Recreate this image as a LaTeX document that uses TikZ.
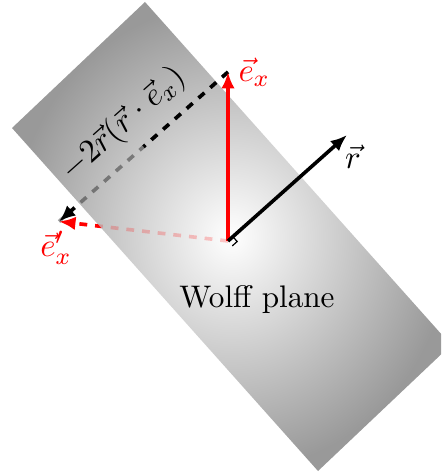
\documentclass[tikz,border=0pt]{standalone}
\usetikzlibrary{arrows.meta,calc}
\begin{document}
\begin{tikzpicture}[x=0.3333pt,y=-0.3333pt,
  vecarrow/.style={line width=1.2pt,-{Latex[length=5.5pt,width=4.5pt]}},
  dsh/.style={line width=1.2pt,dash pattern=on 2.6pt off 2.65pt},
  tipped/.style={-{Latex[length=5.5pt,width=4.5pt]}},
  mlabel/.style={font=\fontsize{11.2}{13}\selectfont}]
\clip (0,0) rectangle (441,474);
% Wolff plane
\coordinate (T) at (145,2);
\coordinate (L) at (12,128);
\coordinate (B) at (318,471);
\coordinate (Rc) at (451,345);
\shade[inner color=white, outer color=black!40] (T) -- (L) -- (B) -- (Rc) -- cycle;
% points
\coordinate (O) at (228,241);
\coordinate (E) at (228,72);
\coordinate (R) at (347,135);
\coordinate (Ep) at (59,221.5);
\coordinate (M) at ($(E)!0.5!(Ep)$);
% parts behind the plane
\draw[dsh, black, opacity=0.38] (E) -- (Ep);
\draw[dsh, black] (E) -- (M);
\draw[dsh, red, opacity=0.22] (O) -- (Ep);
% parts outside the plane
\begin{scope}
  \clip (0,114.5) -- (330,484.5) -- (0,484.5) -- cycle;
  \draw[dsh, black, tipped] (E) -- (Ep);
  \draw[dsh, red, tipped] (O) -- (Ep);
\end{scope}
% vectors
\draw[vecarrow, red] (O) -- (E);
\draw[vecarrow, black] (O) -- (R);
% right angle mark
\draw[line width=0.4pt] ($(O)+(4.85,-4.32)$) -- ($(O)+(9.17,0.53)$) -- ($(O)+(4.32,4.85)$);
% labels
\node[mlabel, text=red, right] (exlabel) at (E) {$\vec{e}_x$};
\node[mlabel] (rlabel) at (353,157) {$\vec{r}$};
\node[mlabel, text=red] (eplabel) at (56,248) {$\vec{e}_x'$};
\node[mlabel, rotate=41.7] (difflabel) at (123.5,124.4) {$-2\vec{r}(\vec{r}\cdot\vec{e}_x)$};
\node[font=\fontsize{10.4}{12}\selectfont] (wplabel) at (257,300) {Wolff plane};
\end{tikzpicture}
\end{document}
